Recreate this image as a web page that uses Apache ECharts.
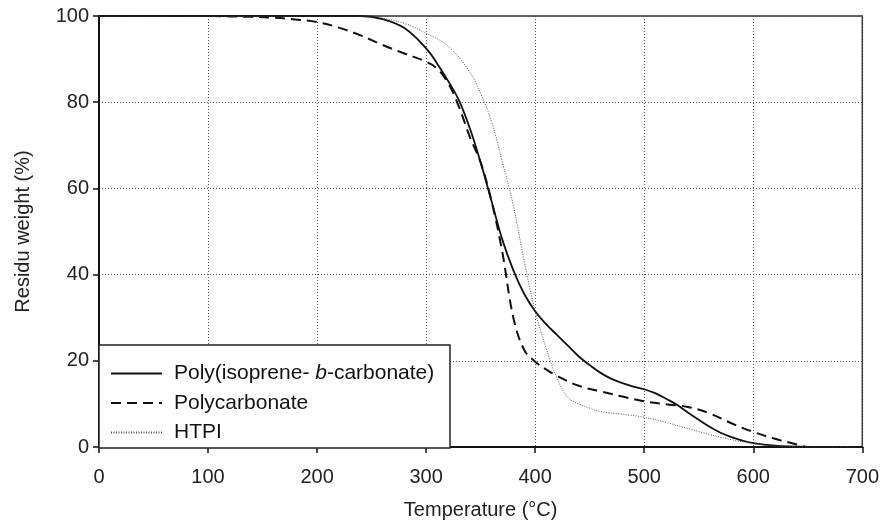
<!DOCTYPE html>
<html>
<head>
<meta charset="utf-8">
<script src="https://cdn.jsdelivr.net/npm/echarts@6/dist/echarts.min.js"></script>
<style>
html,body{margin:0;padding:0;background:#fff;}
#chart{width:882px;height:525px;}
</style>
</head>
<body>
<div id="chart"></div>
<script>
// ---- data ----
const seriesNames = ['Poly(isoprene-b-carbonate)', 'Polycarbonate', 'HTPI'];
const xTicks = [0, 100, 200, 300, 400, 500, 600, 700];
const yTicks = [0, 20, 40, 60, 80, 100];

const polyT = [0,100,200,240,260,280,300,310,320,330,340,350,360,370,380,390,400,410,420,430,440,450,460,470,480,490,500,510,520,530,540,550,560,570,580,590,600,620,640,650,700];
const polyW = [100,100,100,100,99.3,97.2,92.5,89,85,80.5,74,66,57,48,41,35.5,31.5,28.5,26,23.5,21,19,17.2,15.8,14.8,14,13.4,12.5,11.2,9.8,8,6.3,4.7,3.3,2.3,1.5,0.9,0.3,0.1,0,0];

const pcT = [0,100,120,140,160,180,200,220,240,260,280,300,310,320,330,340,350,360,370,380,390,400,410,420,440,460,480,500,520,540,560,580,600,620,640,650,700];
const pcW = [100,100,99.9,99.8,99.6,99.2,98.6,97.3,95.5,93.3,91.3,89.4,87.8,84.5,79,72,66,57,45,30,22.5,19.8,18,16.5,14.2,12.9,11.7,10.6,9.9,9.3,7.8,5.5,3.5,1.9,0.6,0,0];

const htpiT = [0,100,200,250,260,280,300,320,340,350,360,370,380,390,400,410,420,430,440,450,460,480,500,520,540,560,580,600,620,630,700];
const htpiW = [100,100,100,100,99.5,98.3,96,93,87,82,75.5,66,56,43,31.5,23,16,11.5,10,9,8.2,7.6,6.9,5.7,4.3,2.9,1.7,0.8,0.2,0,0];

function pairs(xs, ys){ return xs.map((x,i)=>[x, ys[i]]); }

const FONT = '"Liberation Sans", Arial, sans-serif';
const chart = echarts.init(document.getElementById('chart'), null, {renderer:'canvas'});

const option = {
  backgroundColor: '#fff',
  animation: false,
  textStyle: { fontFamily: FONT },
  grid: {
    left: 99, top: 16, right: 19, bottom: 77,
    show: true, borderColor: '#333', borderWidth: 1.5, backgroundColor: 'transparent'
  },
  xAxis: {
    type: 'value', min: xTicks[0], max: xTicks[xTicks.length-1], interval: 100,
    name: 'Temperature (°C)', nameLocation: 'middle', nameGap: 53,
    nameTextStyle: { fontFamily: FONT, fontSize: 20, color: '#222' },
    axisLine: { onZero: false, lineStyle: { color: '#111', width: 2 } },
    axisTick: { show: true, inside: false, length: 6, lineStyle: { color: '#111', width: 1.5 } },
    axisLabel: { margin: 20, fontFamily: FONT, fontSize: 20, color: '#222' },
    splitLine: { show: true, lineStyle: { color: '#555', width: 1, type: [1, 2] } }
  },
  yAxis: {
    type: 'value', min: yTicks[0], max: yTicks[yTicks.length-1], interval: 20,
    name: 'Residu weight (%)', nameLocation: 'middle', nameGap: 66,
    nameTextStyle: { fontFamily: FONT, fontSize: 20, color: '#222' },
    axisLine: { show: true, onZero: false, lineStyle: { color: '#111', width: 2 } },
    axisTick: { show: true, inside: false, length: 6, lineStyle: { color: '#111', width: 1.5 } },
    axisLabel: { margin: 10, fontFamily: FONT, fontSize: 20, color: '#222' },
    splitLine: { show: true, lineStyle: { color: '#555', width: 1, type: [1, 2] } }
  },
  graphic: [{
    type: 'rect', z: 10, silent: true,
    shape: { x: 99, y: 345, width: 351, height: 103 },
    style: { fill: '#fff', stroke: '#222', lineWidth: 1.5 }
  }],
  legend: {
    z: 20,
    orient: 'vertical', left: 110, top: 363,
    itemWidth: 51, itemHeight: 14, itemGap: 8.5,
    padding: 0,
    data: seriesNames,
    itemStyle: { color: 'rgba(0,0,0,0)', borderColor: 'rgba(0,0,0,0)', borderWidth: 0 },
    formatter: function(name){
      if (name === seriesNames[0]) return 'Poly(isoprene- {i|b}-carbonate)';
      return name;
    },
    textStyle: {
      fontFamily: FONT, fontSize: 21, color: '#111', lineHeight: 20, padding: [0,0,0,7],
      rich: { i: { fontFamily: FONT, fontSize: 21, fontStyle: 'italic', color: '#111', lineHeight: 20 } }
    }
  },
  series: [
    {
      name: seriesNames[0], type: 'line', data: pairs(polyT, polyW),
      symbol: 'none', smooth: 0.4, z: 3,
      lineStyle: { color: '#111', width: 1.8, type: 'solid' },
      itemStyle: { color: '#111' }
    },
    {
      name: seriesNames[1], type: 'line', data: pairs(pcT, pcW),
      symbol: 'none', smooth: 0.4, z: 3,
      lineStyle: { color: '#111', width: 2, type: [10, 6] },
      itemStyle: { color: '#111' }
    },
    {
      name: seriesNames[2], type: 'line', data: pairs(htpiT, htpiW),
      symbol: 'none', smooth: 0.4, z: 3,
      lineStyle: { color: '#555', width: 1, type: [1, 1.5] },
      itemStyle: { color: '#555' }
    }
  ]
};
chart.setOption(option);
</script>
</body>
</html>
